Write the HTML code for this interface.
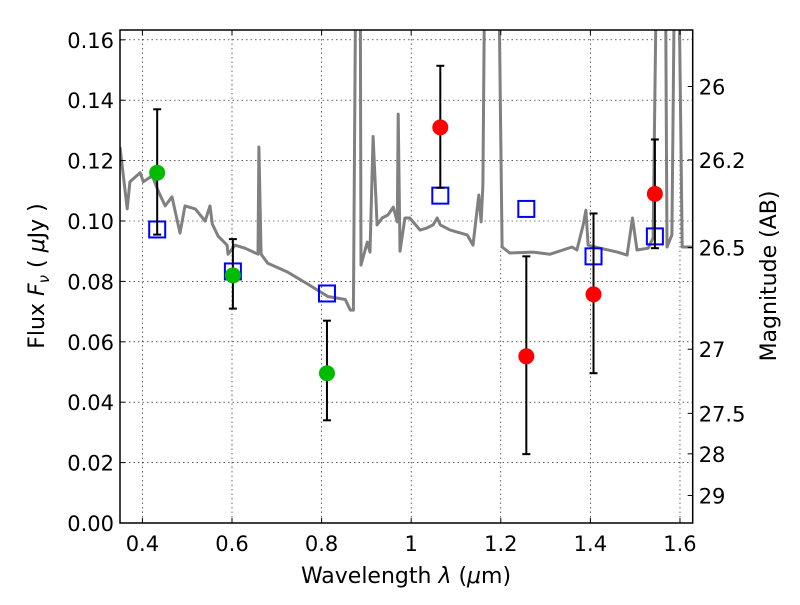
<!DOCTYPE html>
<html><head><meta charset="utf-8"><style>
body{margin:0;background:#fff}
svg text{font-family:"DejaVu Sans","Liberation Sans",sans-serif;fill:#000}
</style></head><body>
<svg id="chart" width="800" height="600" xmlns="http://www.w3.org/2000/svg">
<rect width="800" height="600" fill="#fff"/>
<g id="grid"></g>
<g id="plot"></g>
<rect x="120" y="30" width="572.7" height="493" fill="none" stroke="#000" stroke-width="1.5"/>
<g id="ticks"></g>
<text x="406" y="583" font-size="22" text-anchor="middle">Wavelength  <tspan font-style="italic">λ</tspan> (<tspan font-style="italic">μ</tspan>m)</text>
<text transform="translate(44,276) rotate(-90)" font-size="22" text-anchor="middle">Flux  <tspan font-style="italic">F</tspan><tspan font-style="italic" font-size="15" dy="5">ν</tspan><tspan dy="-5">  ( </tspan><tspan font-style="italic">μ</tspan>Jy )</text>
<text transform="translate(776,276) rotate(-90)" font-size="22" text-anchor="middle">Magnitude (AB)</text>
</svg>
<script>
const specWave=[.350,.366,.372,.395,.402,.422,.435,.451,.466,.484,.495,.518,.540,.551,.556,.569,.589,.591,.607,.629,.658,.660,.665,.680,.725,.770,.814,.853,.864,.871,.877,.886,.888,.902,.908,.915,.924,.935,.948,.960,.969,.971,.975,.986,.997,1.020,1.035,1.049,1.058,1.065,1.087,1.125,1.138,1.151,1.156,1.160,1.165,1.194,1.203,1.220,1.272,1.310,1.359,1.370,1.384,1.390,1.395,1.422,1.460,1.482,1.494,1.504,1.529,1.540,1.549,1.567,1.571,1.582,1.589,1.596,1.605,1.629];
const specFlux=[.1245,.104,.113,.116,.113,.115,.110,.105,.108,.096,.105,.104,.100,.105,.099,.095,.092,.089,.092,.091,.089,.1245,.089,.086,.083,.079,.075,.074,.0705,.0705,.2,.2,.0854,.093,.0897,.128,.0987,.101,.102,.1046,.0997,.1354,.090,.101,.101,.097,.0977,.0987,.101,.0987,.097,.0954,.092,.1086,.0997,.112,.2,.2,.0914,.0894,.0897,.089,.0914,.0904,.0987,.1036,.092,.091,.0897,.0887,.101,.0904,.091,.0944,.2,.2,.0914,.0954,.2,.2,.0914,.0914];
const redWave=[1.065,1.257,1.407,1.544];
const redFlux=[.131,.0552,.0757,.109];
const redLo=[.111,.0228,.0496,.091];
const redHi=[.1514,.0883,.1025,.127];
const greenWave=[.433,.602,.812];
const greenFlux=[.116,.082,.0496];
const greenLo=[.0955,.071,.034];
const greenHi=[.137,.094,.067];
const boxWave=[.433,.602,.812,1.065,1.257,1.407,1.544];
const boxFlux=[.0972,.0833,.076,.1084,.104,.0883,.0949];
const xTicks=[0.4,0.6,0.8,1.0,1.2,1.4,1.6];
const xTickLabels=["0.4","0.6","0.8","1","1.2","1.4","1.6"];
const yTicks=[0,0.02,0.04,0.06,0.08,0.10,0.12,0.14,0.16];
const yTickLabels=["0.00","0.02","0.04","0.06","0.08","0.10","0.12","0.14","0.16"];
const magTicks=[26,26.2,26.5,27,27.5,28,29];
const magTickLabels=["26","26.2","26.5","27","27.5","28","29"];

const NS="http://www.w3.org/2000/svg";
const X0=120,X1=692.7,Y0=523,Y1=30;
const xmin=0.35,xmax=1.6284,ymin=0,ymax=0.16325;
function sx(v){return X0+(v-xmin)/(xmax-xmin)*(X1-X0);}
function sy(v){return Y0-(v-ymin)/(ymax-ymin)*(Y0-Y1);}
function el(tag,attrs,parent){const e=document.createElementNS(NS,tag);for(const k in attrs)e.setAttribute(k,attrs[k]);parent.appendChild(e);return e;}
const grid=document.getElementById('grid'),plot=document.getElementById('plot'),ticks=document.getElementById('ticks');

xTicks.forEach((t,i)=>{
  const x=sx(t);
  const g=el('line',{x1:x,x2:x,y1:Y1,y2:Y0,stroke:'#000','stroke-width':0.6,'stroke-dasharray':'1.5,3'},grid);
  
  
  el('line',{x1:x,x2:x,y1:Y0,y2:Y0-5,stroke:'#000'},ticks);
  el('line',{x1:x,x2:x,y1:Y1,y2:Y1+5,stroke:'#000'},ticks);
  const tx=el('text',{x:x,y:Y0+28,'font-size':21,'text-anchor':'middle'},ticks);
  tx.textContent=xTickLabels[i];
  
  
});
yTicks.forEach((t,i)=>{
  const y=sy(t);
  const g=el('line',{x1:X0,x2:X1,y1:y,y2:y,stroke:'#000','stroke-width':0.6,'stroke-dasharray':'1.5,3'},grid);
  
  
  el('line',{x1:X0,x2:X0+5,y1:y,y2:y,stroke:'#000'},ticks);
  const tx=el('text',{x:X0-6,y:y+8,'font-size':21,'text-anchor':'end'},ticks);
  tx.textContent=yTickLabels[i];
  
  
});
magTicks.forEach((m,i)=>{
  const y=sy(Math.pow(10,(23.9-m)/2.5));
  el('line',{x1:X1,x2:X1-5,y1:y,y2:y,stroke:'#000'},ticks);
  const tx=el('text',{x:X1+6,y:y+8,'font-size':21,'text-anchor':'start'},ticks);
  tx.textContent=magTickLabels[i];
  
  
});

el('clipPath',{id:'clip'},plot);
el('rect',{x:X0,y:Y1,width:X1-X0,height:Y0-Y1},document.getElementById('clip'));
const d=specWave.map((w,i)=>(i?'L':'M')+sx(w).toFixed(1)+','+sy(specFlux[i]).toFixed(1)).join(' ');
const sp=el('path',{d:d,fill:'none',stroke:'#808080','stroke-width':3,'clip-path':'url(#clip)','stroke-linejoin':'round'},plot);



boxWave.forEach((w,i)=>{
  const b=el('rect',{x:sx(w)-8,y:sy(boxFlux[i])-8,width:16,height:16,fill:'none',stroke:'#0000ff','stroke-width':2},plot);
  
  
});
function pts(wave,flux,lo,hi,color,name){
  wave.forEach((w,i)=>{
    const x=sx(w);
    el('line',{x1:x,x2:x,y1:sy(lo[i]),y2:sy(hi[i]),stroke:'#000','stroke-width':2},plot);
    el('line',{x1:x-4,x2:x+4,y1:sy(lo[i]),y2:sy(lo[i]),stroke:'#000','stroke-width':2},plot);
    el('line',{x1:x-4,x2:x+4,y1:sy(hi[i]),y2:sy(hi[i]),stroke:'#000','stroke-width':2},plot);
    const c=el('circle',{cx:x,cy:sy(flux[i]),r:8,fill:color},plot);
    
    
  });
}
pts(greenWave,greenFlux,greenLo,greenHi,'#00bb00','hst-optical-point');
pts(redWave,redFlux,redLo,redHi,'#ff0000','hst-nir-point');
</script>
</body></html>
